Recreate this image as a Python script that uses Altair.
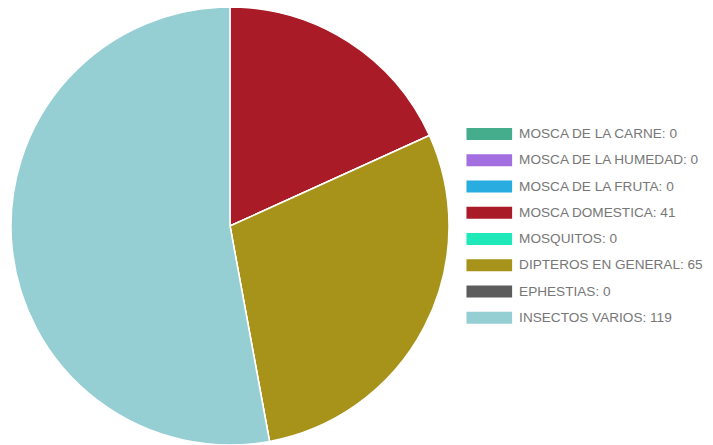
import altair as alt
import pandas as pd

categories = ["MOSCA DE LA CARNE", "MOSCA DE LA HUMEDAD", "MOSCA DE LA FRUTA",
              "MOSCA DOMESTICA", "MOSQUITOS", "DIPTEROS EN GENERAL",
              "EPHESTIAS", "INSECTOS VARIOS"]
values = [0, 0, 0, 41, 0, 65, 0, 119]
colors = ["#45ad8c", "#a36ee0", "#29acdf", "#a91b26", "#1fe8b9", "#a8931a",
          "#5c5c5c", "#96cfd3"]

labels = [f"{c}: {v}" for c, v in zip(categories, values)]
df = pd.DataFrame({"label": labels, "value": values, "order": list(range(len(values)))})

# wide rectangle drawn around a small nominal symbol size
rect_path = "M-4.15,-1.09L4.15,-1.09L4.15,1.09L-4.15,1.09Z"

chart = alt.Chart(df).mark_arc(outerRadius=219, stroke="white", strokeWidth=1.5).encode(
    theta=alt.Theta("value:Q", stack=True),
    order=alt.Order("order:Q"),
    color=alt.Color("label:N", sort=labels,
                    scale=alt.Scale(domain=labels, range=colors),
                    legend=alt.Legend(title=None, orient="none", legendX=474.5, legendY=119.3,
                                      symbolType=rect_path, symbolSize=121,
                                      symbolStrokeWidth=0, symbolOpacity=1,
                                      labelFont="Liberation Sans", labelFontSize=13.6,
                                      labelColor="#777777", labelOffset=23,
                                      rowPadding=11.25, labelLimit=300)),
    x=alt.value(222),
    y=alt.value(218),
).properties(
    width=697, height=437, padding=0,
    autosize=alt.AutoSizeParams(type="none")
).configure_view(stroke=None)

chart.save("out.html", embed_options={"renderer": "svg", "actions": False})
